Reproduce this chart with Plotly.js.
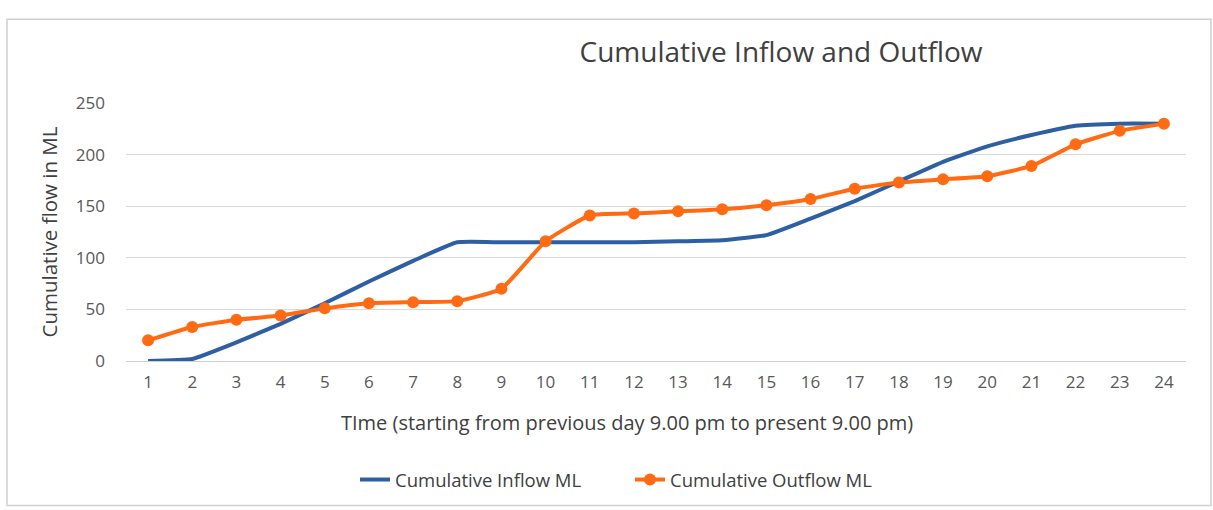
<!DOCTYPE html>
<html>
<head>
<meta charset="utf-8">
<script src="https://cdn.plot.ly/plotly-3.0.1.min.js"></script>
<style>
html,body{margin:0;padding:0;background:#fff;}
#chart{width:1213px;height:510px;}
</style>
</head>
<body>
<div id="chart"></div>
<script>
const hours = [1,2,3,4,5,6,7,8,9,10,11,12,13,14,15,16,17,18,19,20,21,22,23,24];
const inflow = [0,2,18,36,56,77,97,115,115,115,115,115,116,117,122,138,155,174,193,208,219,228,230,230];
const outflow = [20,33,40,44,51,56,57,58,70,116,141,143,145,147,151,157,167,173,176,179,189,210,223,230];
const seriesNames = ['Cumulative Inflow ML','Cumulative Outflow ML'];
const xTitle = 'TIme (starting from previous day 9.00 pm to present 9.00 pm)';

const W = 1213, H = 510;
const L = 126, R = 27, T = 103, B = 148;
const pw = W - L - R, ph = H - T - B;
const px = v => (v - L) / pw;
const py = v => (H - B - v) / ph;

const font = '"Open Sans", Lato, "Liberation Sans", sans-serif';

const traces = [
  {x: hours, y: inflow, name: seriesNames[0], type: 'scatter', mode: 'lines',
   line: {color: '#2e5fa3', width: 4, shape: 'spline', smoothing: 0.4}},
  {x: hours, y: outflow, name: seriesNames[1], type: 'scatter', mode: 'lines+markers',
   line: {color: '#ff6a13', width: 4, shape: 'spline', smoothing: 0.4},
   marker: {color: '#ff6a13', size: 12}}
];

const layout = {
  width: W, height: H,
  margin: {l: L, r: R, t: T, b: B},
  paper_bgcolor: '#ffffff', plot_bgcolor: '#ffffff',
  font: {family: font, color: '#595959', size: 15},
  title: {text: 'Cumulative Inflow and Outflow', font: {family: font, size: 28, color: '#404040'},
          x: px(781), xanchor: 'center', xref: 'paper', y: 1 - 52/H, yanchor: 'middle', yref: 'container'},
  xaxis: {range: [0.5, 24.5], tickmode: 'array', tickvals: hours, ticktext: hours.map(String),
          showgrid: false, zeroline: false, showline: false, ticks: '',
          tickfont: {size: 17, color: '#595959'}, ticklabelstandoff: 9},
  yaxis: {range: [0, 250], tickvals: [0,50,100,150,200,250], showgrid: true, gridcolor: '#d9d9d9', gridwidth: 1,
          zeroline: true, zerolinecolor: '#d0d0d0', zerolinewidth: 1, showline: false, ticks: '',
          tickfont: {size: 17, color: '#595959'}, ticklabelstandoff: 20,
          title: {text: 'Cumulative flow in ML', font: {size: 20.5, color: '#404040'}, standoff: 12}},
  showlegend: true,
  legend: {orientation: 'h', x: px(355), xanchor: 'left', y: py(480), yanchor: 'middle',
           font: {size: 18.5, color: '#404040'}, entrywidth: 230, entrywidthmode: 'pixels', tracegroupgap: 0},
  annotations: [{text: xTitle, xref: 'paper', yref: 'paper', x: px(627), y: py(424),
                 xanchor: 'center', yanchor: 'middle', showarrow: false,
                 font: {family: font, size: 20, color: '#404040'}}],
  shapes: [{type: 'rect', xref: 'paper', yref: 'paper', x0: px(7), x1: px(1211), y0: py(507), y1: py(19),
            line: {color: '#d0d0d0', width: 1.5}, fillcolor: 'rgba(0,0,0,0)', layer: 'below'}]
};

Plotly.newPlot('chart', traces, layout, {displayModeBar: false, staticPlot: true});
</script>
</body>
</html>
